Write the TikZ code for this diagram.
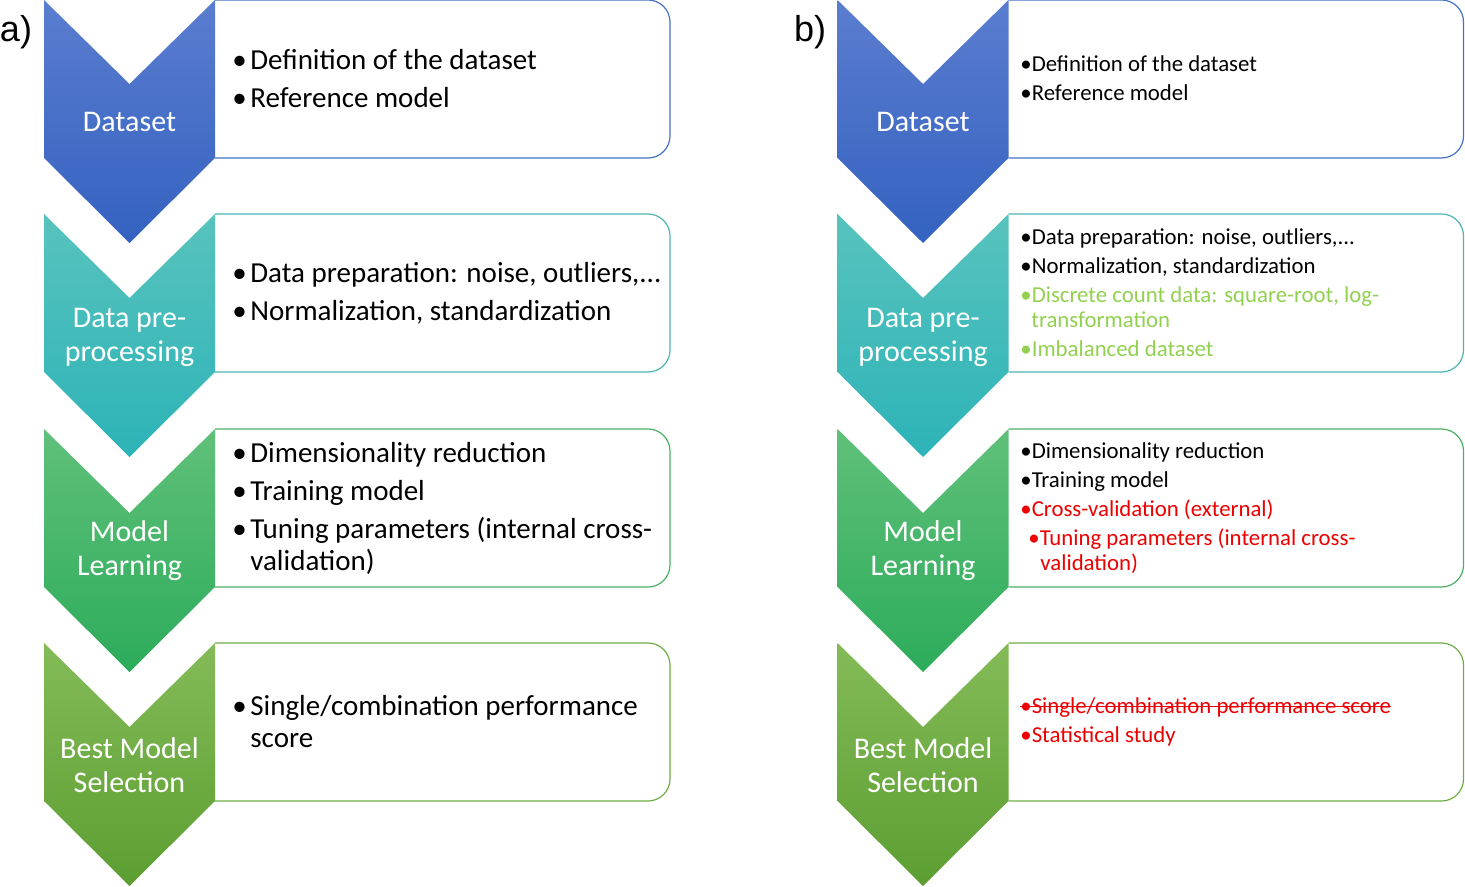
\documentclass[tikz,border=0pt]{standalone}
\usepackage{fontspec}
\setmainfont{Carlito}
\newfontfamily\panelfont{Liberation Sans}
\usetikzlibrary{positioning}

\definecolor{blueTop}{RGB}{90,125,207}
\definecolor{blueBot}{RGB}{52,98,192}
\definecolor{tealTop}{RGB}{88,195,189}
\definecolor{tealBot}{RGB}{45,179,184}
\definecolor{greenTop}{RGB}{96,192,122}
\definecolor{greenBot}{RGB}{44,172,90}
\definecolor{oliveTop}{RGB}{132,187,88}
\definecolor{oliveBot}{RGB}{92,158,50}
\definecolor{blueLine}{RGB}{68,114,196}
\definecolor{tealLine}{RGB}{75,182,178}
\definecolor{greenLine}{RGB}{76,176,102}
\definecolor{oliveLine}{RGB}{112,173,71}
\definecolor{lightGreen}{RGB}{146,208,80}
\definecolor{strongRed}{RGB}{236,0,0}

% chevron: x, top y, top colour, bottom colour
\newcommand{\stagechevron}[4]{%
  \shade[top color=#3, bottom color=#4]
    (#1,#2) -- ++(85.5,84) -- ++(85.5,-84) -- ++(0,158)
    -- ++(-85.5,85) -- ++(-85.5,-85) -- cycle;}
% box to the right of a chevron: x, top y, colour
\newcommand{\stagebox}[3]{%
  \draw[#3, line width=0.6pt, rounded corners=11pt]
    (#1,#2) -- ++(455,0) -- ++(0,158) -- ++(-455,0);}
\newcommand{\bulA}[1]{\makebox[9pt][l]{\textbullet}#1}
% crossed-out text
\newsavebox{\crossbox}
\newcommand{\crossout}[1]{%
  \sbox{\crossbox}{#1}%
  \rlap{\rule[0.27em]{\wd\crossbox}{0.07em}}\usebox{\crossbox}}

\begin{document}
\begin{tikzpicture}[
  x=0.5pt, y=-0.5pt,
  stagelabel/.style={
    text=white, align=center, inner sep=0pt,
    font=\fontsize{15}{17}\selectfont
  },
  itemsA/.style={
    anchor=west, align=left, inner sep=0pt,
    font=\fontsize{14.5}{16}\selectfont
  },
  itemsB/.style={
    anchor=west, align=left, inner sep=0pt,
    font=\fontsize{11.4}{12.5}\selectfont
  },
  panel/.style={font=\panelfont\fontsize{18}{20}\selectfont, inner sep=0pt}
]
\useasboundingbox (0,0) rectangle (1465,887);

% =====================================================
% PANEL A
% =====================================================

\node[panel] (tagA) at (16,32) {a)};

\stagebox{215}{0}{blueLine}
\stagebox{215}{214}{tealLine}
\stagebox{215}{429}{greenLine}
\stagebox{215}{643}{oliveLine}

\stagechevron{44}{0}{blueTop}{blueBot}
\stagechevron{44}{214}{tealTop}{tealBot}
\stagechevron{44}{429}{greenTop}{greenBot}
\stagechevron{44}{643}{oliveTop}{oliveBot}

\node[stagelabel] (datasetA) at (129.5,122) {Dataset};
\node[stagelabel] (prepA) at (129.5,337) {Data pre-\\processing};
\node[stagelabel] (learnA) at (129.5,551) {Model\\Learning};
\node[stagelabel] (selectA) at (129.5,765) {Best Model\\Selection};

\node[itemsA] (datasetItemsA) at (232,79)
{\bulA{Definition of the dataset}\\[3pt]
 \bulA{Reference model}};

\node[itemsA] (prepItemsA) at (232,293)
{\bulA{Data preparation: noise, outliers,...}\\[3pt]
 \bulA{Normalization, standardization}};

\node[itemsA] (learnItemsA) at (232,508)
{\bulA{Dimensionality reduction}\\[3pt]
 \bulA{Training model}\\[3pt]
 \bulA{Tuning parameters (internal cross-}\\
 \hspace*{9pt}validation)};

\node[itemsA] (selectItemsA) at (232,722)
{\bulA{Single/combination performance}\\
 \hspace*{9pt}score};

% =====================================================
% PANEL B
% =====================================================

\node[panel] (tagB) at (810,32) {b)};

\stagebox{1008.5}{0}{blueLine}
\stagebox{1008.5}{214}{tealLine}
\stagebox{1008.5}{429}{greenLine}
\stagebox{1008.5}{643}{oliveLine}

\stagechevron{837.5}{0}{blueTop}{blueBot}
\stagechevron{837.5}{214}{tealTop}{tealBot}
\stagechevron{837.5}{429}{greenTop}{greenBot}
\stagechevron{837.5}{643}{oliveTop}{oliveBot}

\node[stagelabel] (datasetB) at (923,122) {Dataset};
\node[stagelabel] (prepB) at (923,337) {Data pre-\\processing};
\node[stagelabel] (learnB) at (923,551) {Model\\Learning};
\node[stagelabel] (selectB) at (923,765) {Best Model\\Selection};

\node[itemsB] (datasetItemsB) at (1020,78)
{\textbullet Definition of the dataset\\[2pt]
 \textbullet Reference model};

\node[itemsB] (prepItemsB) at (1020,293)
{\textbullet Data preparation: noise, outliers,...\\[2pt]
 \textbullet Normalization, standardization\\[2pt]
 \textcolor{lightGreen}{\textbullet Discrete count data: square-root, log-}\\
 \textcolor{lightGreen}{\hspace*{5.5pt}transformation}\\[2pt]
 \textcolor{lightGreen}{\textbullet Imbalanced dataset}};

% sub-item is shifted right
\node[itemsB] (learnItemsB) at (1020,508)
{\textbullet Dimensionality reduction\\[2pt]
 \textbullet Training model\\[2pt]
 \textcolor{strongRed}{\textbullet Cross-validation (external)}\\[2pt]
 \textcolor{strongRed}{\hspace*{4pt}\textbullet Tuning parameters (internal cross-}\\
 \textcolor{strongRed}{\hspace*{10pt}validation)}};

\node[itemsB] (selectItemsB) at (1020,722)
{\textcolor{strongRed}{\crossout{\textbullet Single/combination performance score}}\\[2pt]
 \textcolor{strongRed}{\textbullet Statistical study}};

\end{tikzpicture}
\end{document}
